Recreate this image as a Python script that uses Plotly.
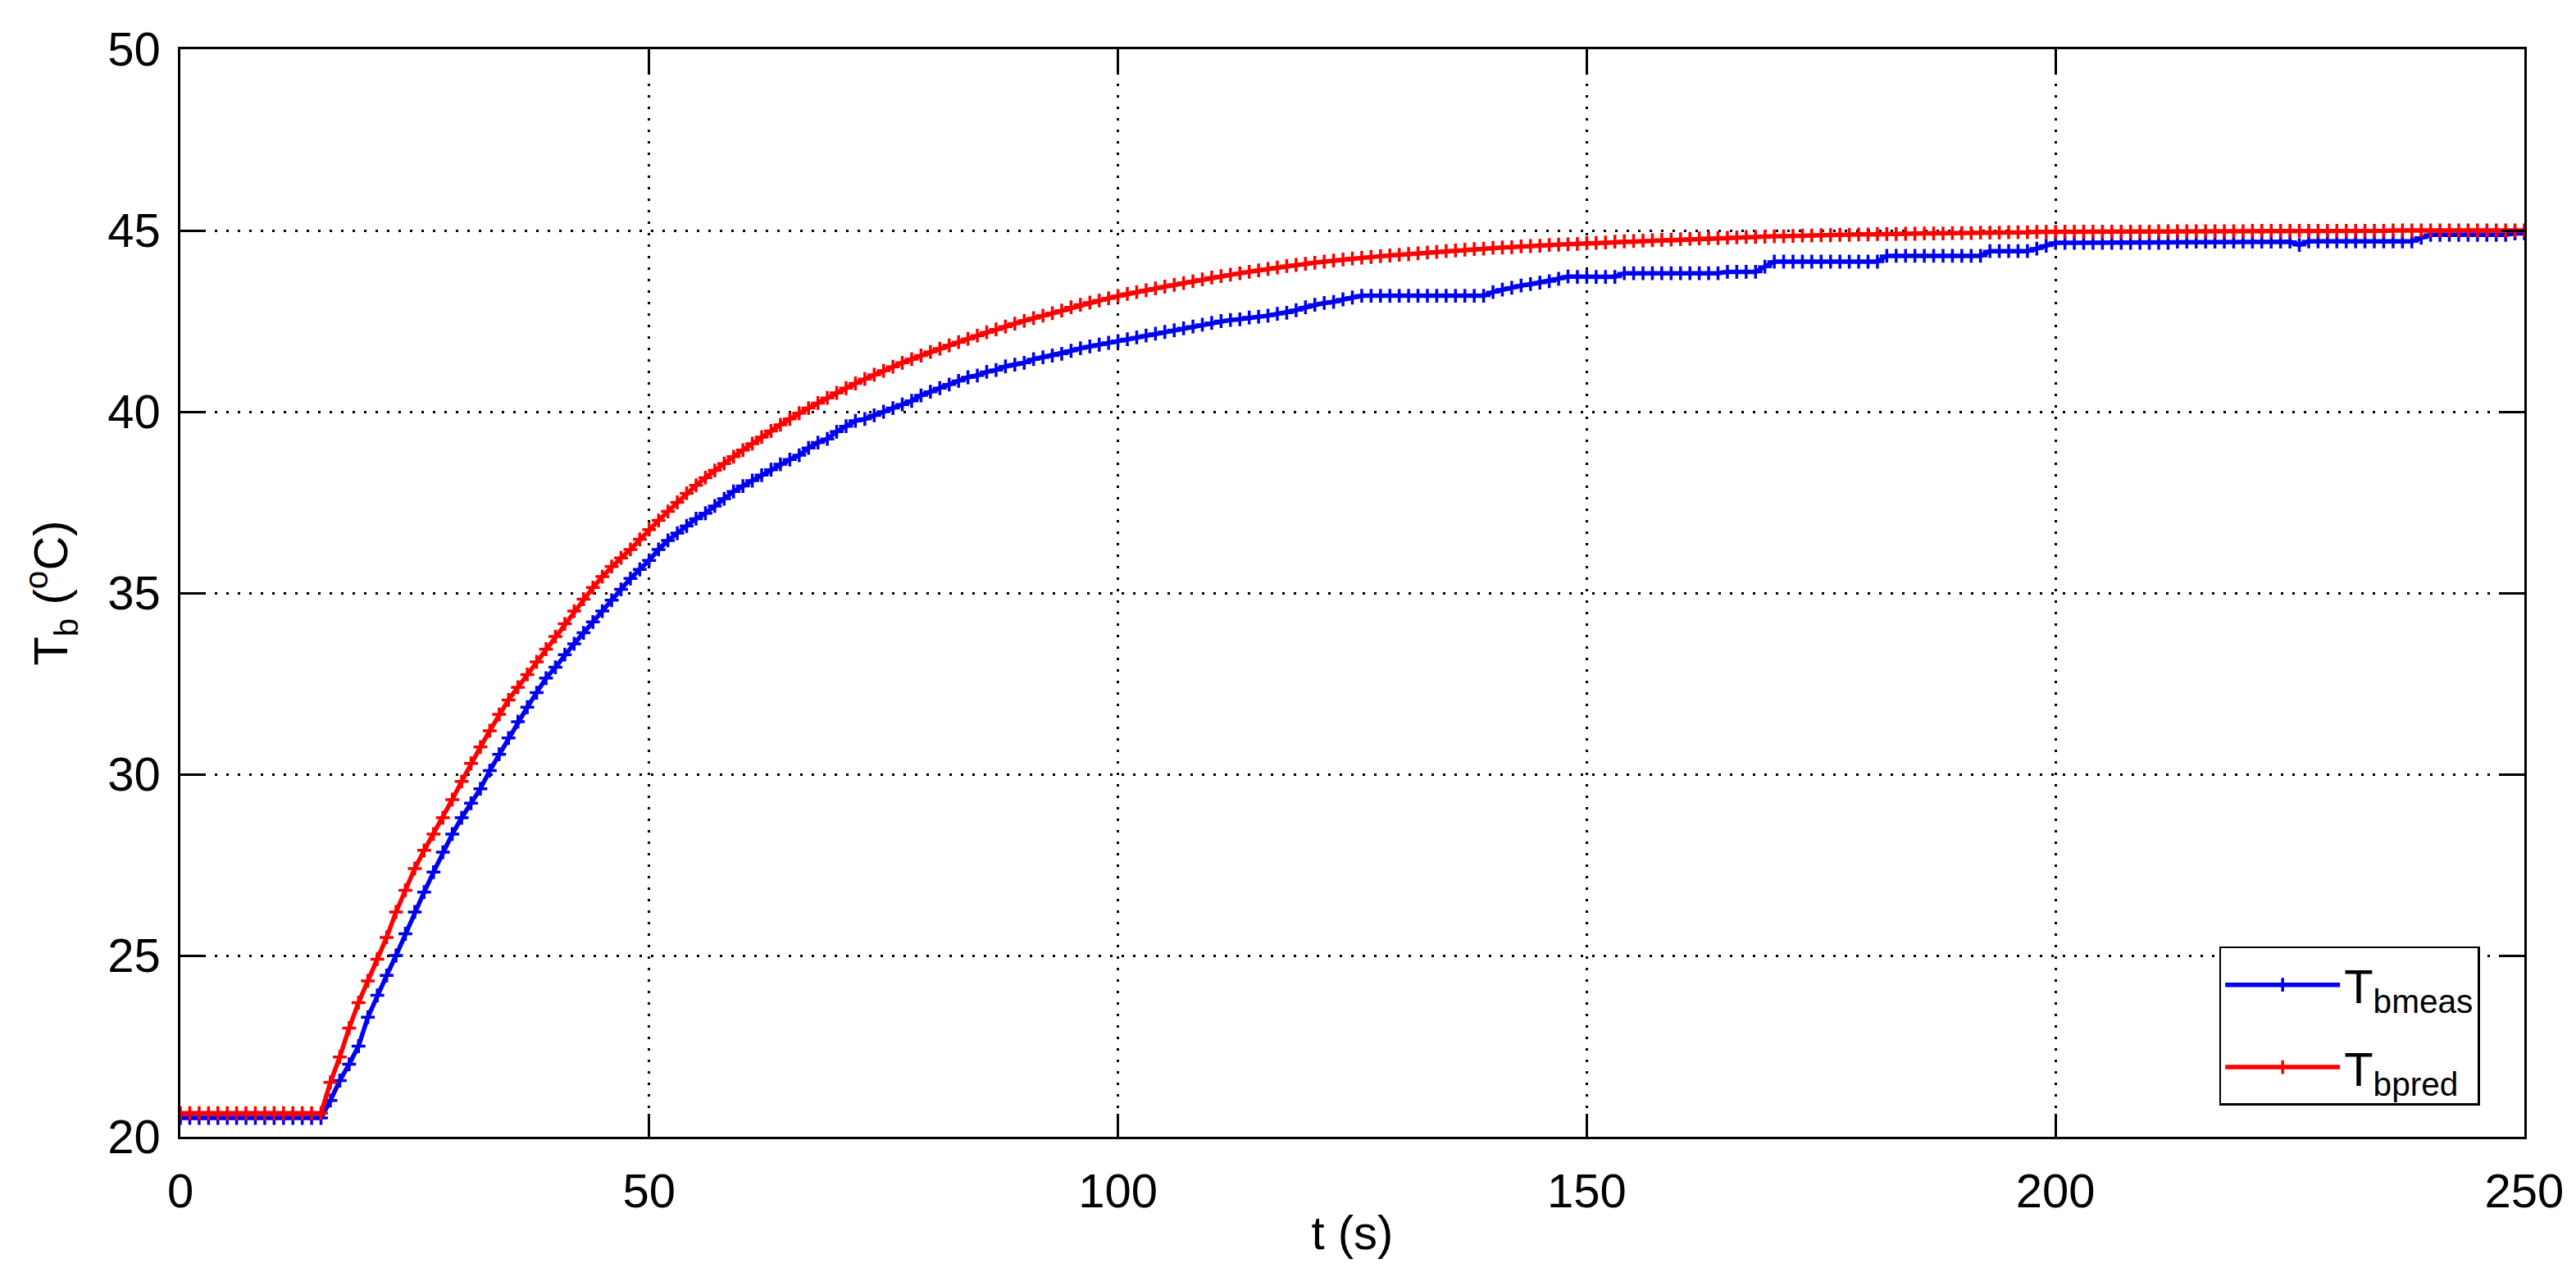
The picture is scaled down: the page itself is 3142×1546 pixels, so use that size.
import plotly.graph_objects as go

# time axis (s), 1 s sampling
t = list(range(0, 251))

T_bmeas = [
    20.52, 20.52, 20.52, 20.52, 20.52, 20.52, 20.52, 20.52, 20.52, 20.52,
    20.52, 20.52, 20.52, 20.52, 20.52, 20.52, 21.0, 21.55, 22.0, 22.5,
    23.3, 23.9, 24.45, 25.0, 25.6, 26.2, 26.75, 27.3, 27.85, 28.35,
    28.8, 29.2, 29.6, 30.1, 30.55, 31.0, 31.45, 31.85, 32.25, 32.65,
    32.95, 33.3, 33.6, 33.9, 34.2, 34.5, 34.8, 35.1, 35.4, 35.65,
    35.9, 36.2, 36.45, 36.65, 36.85, 37.05, 37.2, 37.4, 37.6, 37.8,
    37.95, 38.1, 38.25, 38.4, 38.55, 38.68, 38.8, 39.0, 39.15, 39.25,
    39.45, 39.6, 39.75, 39.8, 39.9, 40.0, 40.1, 40.2, 40.3, 40.45,
    40.55, 40.65, 40.75, 40.85, 40.95, 41.0, 41.1, 41.15, 41.25, 41.3,
    41.35, 41.45, 41.5, 41.55, 41.6, 41.68, 41.75, 41.8, 41.85, 41.9,
    41.95, 42.0, 42.05, 42.1, 42.15, 42.2, 42.25, 42.3, 42.35, 42.4,
    42.45, 42.5, 42.53, 42.55, 42.6, 42.62, 42.65, 42.7, 42.73, 42.8,
    42.88, 42.95, 43.0, 43.03, 43.1, 43.15, 43.2, 43.2, 43.2, 43.2,
    43.2, 43.2, 43.2, 43.2, 43.2, 43.2, 43.2, 43.2, 43.2, 43.2,
    43.3, 43.37, 43.42, 43.48, 43.52, 43.56, 43.6, 43.67, 43.73, 43.72,
    43.72, 43.72, 43.72, 43.72, 43.82, 43.82, 43.82, 43.82, 43.82, 43.82,
    43.82, 43.82, 43.82, 43.82, 43.82, 43.86, 43.86, 43.86, 43.86, 44.0,
    44.14, 44.14, 44.14, 44.14, 44.14, 44.14, 44.14, 44.14, 44.14, 44.14,
    44.14, 44.14, 44.3, 44.3, 44.3, 44.3, 44.3, 44.3, 44.3, 44.3,
    44.3, 44.3, 44.3, 44.43, 44.43, 44.43, 44.43, 44.43, 44.5, 44.58,
    44.66, 44.66, 44.66, 44.66, 44.66, 44.66, 44.66, 44.66, 44.66, 44.66,
    44.66, 44.66, 44.66, 44.69, 44.69, 44.69, 44.69, 44.69, 44.69, 44.69,
    44.69, 44.69, 44.69, 44.69, 44.69, 44.69, 44.6, 44.7, 44.7, 44.7,
    44.7, 44.7, 44.7, 44.7, 44.7, 44.7, 44.7, 44.7, 44.7, 44.8,
    44.88, 44.88, 44.88, 44.88, 44.88, 44.88, 44.88, 44.88, 44.88, 44.92,
    44.92,
]

# predicted T_b (deg C)
T_bpred = [
    20.65, 20.65, 20.65, 20.65, 20.65, 20.65, 20.65, 20.65, 20.65, 20.65,
    20.65, 20.65, 20.65, 20.65, 20.65, 20.65, 21.5, 22.2, 23.0, 23.7,
    24.3, 24.9, 25.5, 26.2, 26.8, 27.4, 27.9, 28.35, 28.8, 29.3,
    29.8, 30.3, 30.75, 31.2, 31.65, 32.05, 32.4, 32.75, 33.1, 33.45,
    33.8, 34.15, 34.5, 34.83, 35.15, 35.45, 35.73, 35.97, 36.2, 36.48,
    36.75, 37.0, 37.25, 37.5, 37.75, 37.97, 38.18, 38.38, 38.57, 38.76,
    38.94, 39.12, 39.3, 39.47, 39.64, 39.8, 39.96, 40.1, 40.24, 40.38,
    40.52, 40.65, 40.78, 40.9, 41.02, 41.13, 41.24, 41.35, 41.45, 41.55,
    41.65, 41.74, 41.83, 41.92, 42.01, 42.1, 42.19, 42.27, 42.35, 42.43,
    42.51, 42.58, 42.65, 42.72, 42.79, 42.88, 42.95, 43.01, 43.07, 43.13,
    43.19, 43.25, 43.3, 43.35, 43.4, 43.45, 43.5, 43.55, 43.6, 43.65,
    43.7, 43.74, 43.78, 43.82, 43.86, 43.9, 43.94, 43.98, 44.02, 44.05,
    44.08, 44.11, 44.14, 44.17, 44.2, 44.23, 44.25, 44.27, 44.29, 44.31,
    44.33, 44.35, 44.37, 44.39, 44.41, 44.43, 44.45, 44.47, 44.49, 44.5,
    44.52, 44.53, 44.54, 44.56, 44.57, 44.58, 44.6, 44.61, 44.62, 44.63,
    44.65, 44.66, 44.67, 44.69, 44.7, 44.71, 44.72, 44.73, 44.74, 44.75,
    44.76, 44.77, 44.78, 44.79, 44.79, 44.8, 44.81, 44.82, 44.82, 44.83,
    44.84, 44.84, 44.85, 44.86, 44.86, 44.87, 44.87, 44.88, 44.88, 44.89,
    44.89, 44.9, 44.9, 44.9, 44.91, 44.91, 44.92, 44.92, 44.92, 44.93,
    44.93, 44.93, 44.94, 44.94, 44.94, 44.95, 44.95, 44.95, 44.96, 44.96,
    44.96, 44.97, 44.97, 44.97, 44.97, 44.97, 44.97, 44.97, 44.97, 44.97,
    44.97, 44.98, 44.98, 44.98, 44.98, 44.98, 44.98, 44.98, 44.98, 44.98,
    44.98, 44.99, 44.99, 44.99, 44.99, 44.99, 44.99, 44.99, 44.99, 44.99,
    44.99, 44.99, 44.99, 44.99, 44.99, 44.99, 45.0, 45.0, 45.0, 45.0,
    45.0, 45.0, 45.0, 45.0, 45.0, 45.0, 45.0, 45.0, 45.0, 45.0,
    45.0,
]

x_ticks = [0, 50, 100, 150, 200, 250]
y_ticks = [20, 25, 30, 35, 40, 45, 50]

FONT = "Arial, Liberation Sans, Helvetica, sans-serif"
BLUE = "#0000f0"
RED = "#ff0000"

fig = go.Figure()
fig.add_trace(go.Scatter(
    x=t, y=T_bmeas, mode="lines+markers", name="T<sub>bmeas</sub>",
    legendgroup="meas",
    line=dict(color=BLUE, width=5.5),
    marker=dict(symbol="cross-thin", size=12, color=BLUE,
                line=dict(color=BLUE, width=3.5)),
))
fig.add_trace(go.Scatter(
    x=t, y=T_bpred, mode="lines+markers", name="T<sub>bpred</sub>",
    legendgroup="pred",
    line=dict(color=RED, width=5.5),
    marker=dict(symbol="cross-thin", size=12, color=RED,
                line=dict(color=RED, width=3.5)),
))

axis_common = dict(
    showline=True, linecolor="black", linewidth=2.5, mirror="ticks",
    ticks="inside", ticklen=28, tickwidth=2.5, tickcolor="black",
    showgrid=True, gridcolor="black", gridwidth=2.5, griddash="3px,11px",
    zeroline=False,
    tickfont=dict(family=FONT, size=58, color="black"),
)

fig.update_xaxes(
    range=[0, 250], tickvals=x_ticks, ticktext=[str(v) for v in x_ticks],
    title=dict(text="t (s)", font=dict(family=FONT, size=58, color="black"), standoff=0),
    ticklabelstandoff=14,
    **axis_common,
)
fig.update_yaxes(
    range=[20, 50], tickvals=y_ticks, ticktext=[str(v) for v in y_ticks],
    title=dict(text="T<sub>b</sub> (<sup>o</sup>C)", font=dict(family=FONT, size=58, color="black"), standoff=30),
    ticklabelstandoff=10,
    **axis_common,
)

fig.update_layout(
    width=3142, height=1546, autosize=False,
    margin=dict(l=212, r=71, t=52, b=168),
    paper_bgcolor="white", plot_bgcolor="white",
    showlegend=True,
    legend=dict(
        x=0.981, y=0.0287, xanchor="right", yanchor="bottom",
        bgcolor="white", bordercolor="black", borderwidth=2.5,
        font=dict(family=FONT, size=58, color="black"),
        itemwidth=140, tracegroupgap=22,
    ),
)

fig.write_html("out.html")
